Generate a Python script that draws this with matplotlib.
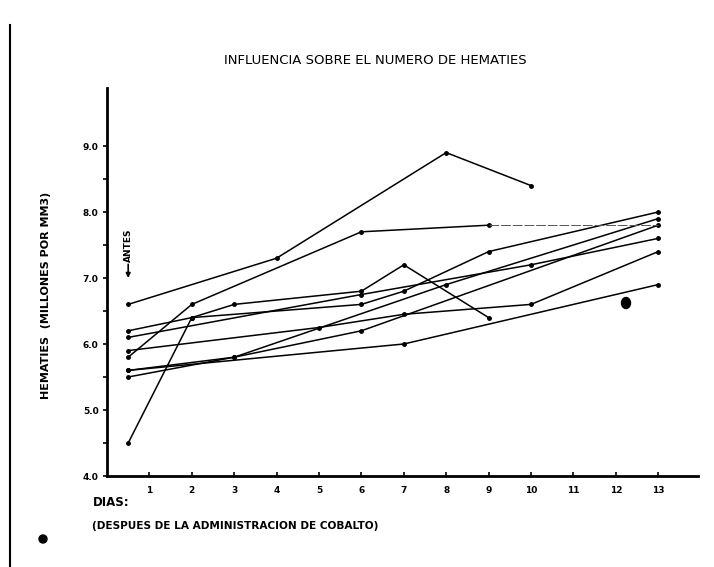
import matplotlib
matplotlib.use("Agg")
import matplotlib.pyplot as plt
from matplotlib.patches import Ellipse

# Days after cobalt administration (0.5 = "ANTES", before)
days_A = [0.5, 4, 8, 10]
vals_A = [6.6, 7.3, 8.9, 8.4]
days_B = [0.5, 2, 6, 9, 13]
vals_B = [5.8, 6.6, 7.7, 7.8, 7.8]
days_C = [0.5, 2, 3, 6, 7, 9]
vals_C = [4.5, 6.4, 6.6, 6.8, 7.2, 6.4]
days_D = [0.5, 2, 6, 7, 9, 13]
vals_D = [6.2, 6.4, 6.6, 6.8, 7.4, 8.0]
days_E = [0.5, 3, 8, 13]
vals_E = [5.6, 5.8, 6.9, 7.9]
days_F = [0.5, 6, 10, 13]
vals_F = [6.1, 6.75, 7.2, 7.6]
days_G = [0.5, 5, 7, 10, 13]
vals_G = [5.9, 6.25, 6.45, 6.6, 7.4]
days_H = [0.5, 7, 13]
vals_H = [5.6, 6.0, 6.9]
days_I = [0.5, 3, 6, 13]
vals_I = [5.5, 5.8, 6.2, 7.8]

series = [(days_A, vals_A), (days_C, vals_C), (days_D, vals_D),
          (days_E, vals_E), (days_F, vals_F), (days_G, vals_G), (days_H, vals_H),
          (days_I, vals_I)]

x_ticks = list(range(1, 14))
x_labels = [str(d) for d in x_ticks]
y_major = [4.0, 5.0, 6.0, 7.0, 8.0, 9.0]
y_labels = ["4.0", "5.0", "6.0", "7.0", "8.0", "9.0"]
y_minor = [4.5, 5.5, 6.5, 7.5, 8.5]

title = "INFLUENCIA SOBRE EL NUMERO DE HEMATIES"
ylabel = "HEMATIES  (MILLONES POR MM3)"
xlabel = "DIAS:"
note = "(DESPUES DE LA ADMINISTRACION DE COBALTO)"

W, H = 714, 567
fig = plt.figure(figsize=(W / 100, H / 100), dpi=100)
ax = fig.add_axes([107 / W, 1 - 476 / H, (698 - 107) / W, (476 - 88) / H])

for d, v in series:
    ax.plot(d, v, color="black", lw=1.1, marker="o", ms=2.5)
# subject B: last stretch drawn faint in the original
ax.plot(days_B[:4], vals_B[:4], color="black", lw=1.1, marker="o", ms=2.5)
ax.plot(days_B[3:], vals_B[3:], color="#555555", lw=0.7, dashes=(10, 2))

ax.set_xlim(0, (698 - 107) / 42.4)
ax.set_ylim(4.0, 4.0 + (476 - 88) / 66)
ax.set_xticks(x_ticks)
ax.set_xticklabels(x_labels, fontsize=6.5, fontweight="bold")
ax.set_yticks(y_major)
ax.set_yticklabels(y_labels, fontsize=6.5, fontweight="bold")
ax.set_yticks(y_minor, minor=True)
ax.tick_params(axis="y", which="both", direction="out", length=3, width=1.2, pad=3)
ax.tick_params(axis="x", direction="in", length=3, width=1.2, pad=7)
for s in ["top", "right"]:
    ax.spines[s].set_visible(False)
for s in ["left", "bottom"]:
    ax.spines[s].set_linewidth(2)

ax.annotate("ANTES", xy=(0.5, 7.0), xytext=(0.5, 7.25), fontsize=6.5, fontweight="bold",
            rotation=90, ha="center", va="bottom",
            arrowprops=dict(arrowstyle="-|>", color="black", lw=1.2, shrinkA=0, shrinkB=0))

fig.text(375 / W, 1 - 60 / H, title, ha="center", va="center", fontsize=9.5)
fig.text(46 / W, 1 - 295 / H, ylabel, ha="center", va="center", rotation=90,
         fontsize=8, fontweight="bold")
fig.text(93 / W, 1 - 502 / H, xlabel, ha="left", va="center", fontsize=8.5, fontweight="bold")
fig.text(92 / W, 1 - 526 / H, note, ha="left", va="center", fontsize=7.6, fontweight="bold")

# frame line and ink blots of the scanned page
fig.add_artist(plt.Line2D([10 / W, 10 / W], [1 - 25 / H, 1 - 567 / H], color="black", lw=1.5))
fig.add_artist(Ellipse((626 / W, 1 - 303 / H), 9 / W, 11 / H, color="black"))
fig.add_artist(Ellipse((43 / W, 1 - 539 / H), 8 / W, 8 / H, color="black"))

fig.savefig("out.png", dpi=100)
